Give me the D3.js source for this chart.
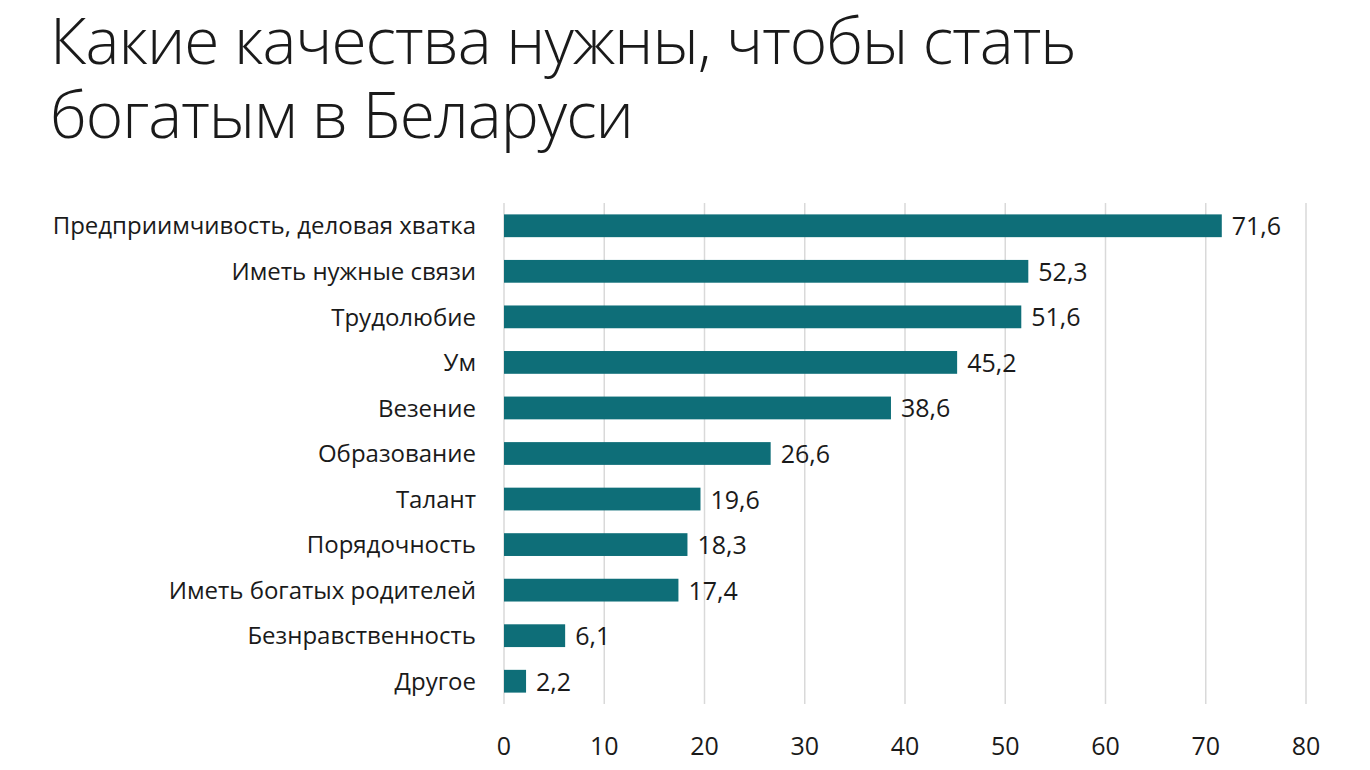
<!DOCTYPE html>
<html>
<head>
<meta charset="utf-8">
<script src="https://cdn.jsdelivr.net/npm/d3@7"></script>
<style>
  body { margin: 0; background: #fff; }
  svg text { font-family: "Open Sans", "Noto Sans", sans-serif; fill: #1a1a1a; }
</style>
</head>
<body>
<svg width="1370" height="770"></svg>
<script>
var categories = ["Предприимчивость, деловая хватка", "Иметь нужные связи", "Трудолюбие", "Ум",
  "Везение", "Образование", "Талант", "Порядочность", "Иметь богатых родителей",
  "Безнравственность", "Другое"];
var values = [71.6, 52.3, 51.6, 45.2, 38.6, 26.6, 19.6, 18.3, 17.4, 6.1, 2.2];
var ticks = [0, 10, 20, 30, 40, 50, 60, 70, 80];
var titleLines = ["Какие качества нужны, чтобы стать", "богатым в Беларуси"];

var svg = d3.select("svg");

var x = d3.scaleLinear().domain([0, 80]).range([504, 1306]);
var y = d3.scaleBand().domain(categories).range([203, 704]).paddingInner(0.5).paddingOuter(0.25);

// title
svg.append("g").selectAll("text")
  .data(titleLines)
  .enter().append("text")
  .attr("x", 50)
  .attr("y", function(d, i) { return 64 + i * 74; })
  .style("font-size", "64px")
  .style("font-weight", 300)
  .style("letter-spacing", "-1px")
  .text(function(d) { return d; });

// grid
svg.append("g").selectAll("line")
  .data(ticks)
  .enter().append("line")
  .attr("x1", function(d) { return x(d); })
  .attr("x2", function(d) { return x(d); })
  .attr("y1", 203)
  .attr("y2", 704)
  .attr("stroke", "#d9d9d9")
  .attr("stroke-width", 1.5);

// bars
svg.append("g").selectAll("rect")
  .data(values)
  .enter().append("rect")
  .attr("x", x(0))
  .attr("y", function(d, i) { return y(categories[i]); })
  .attr("width", function(d) { return x(d) - x(0); })
  .attr("height", y.bandwidth())
  .attr("fill", "#0e6e78");

// value labels
svg.append("g").selectAll("text")
  .data(values)
  .enter().append("text")
  .attr("x", function(d) { return x(d) + 10; })
  .attr("y", function(d, i) { return y(categories[i]) + y.bandwidth() / 2; })
  .attr("dy", "0.38em")
  .style("font-size", "25px")
  .text(function(d) { return String(d).replace(".", ","); });

// category labels
svg.append("g").selectAll("text")
  .data(categories)
  .enter().append("text")
  .attr("x", 476)
  .attr("y", function(d) { return y(d) + y.bandwidth() / 2; })
  .attr("dy", "0.36em")
  .attr("text-anchor", "end")
  .style("font-size", "24px")
  .text(function(d) { return d; });

// x axis labels
svg.append("g").selectAll("text")
  .data(ticks)
  .enter().append("text")
  .attr("x", function(d) { return x(d); })
  .attr("y", 755)
  .attr("text-anchor", "middle")
  .style("font-size", "25px")
  .text(function(d) { return d; });
</script>
</body>
</html>
